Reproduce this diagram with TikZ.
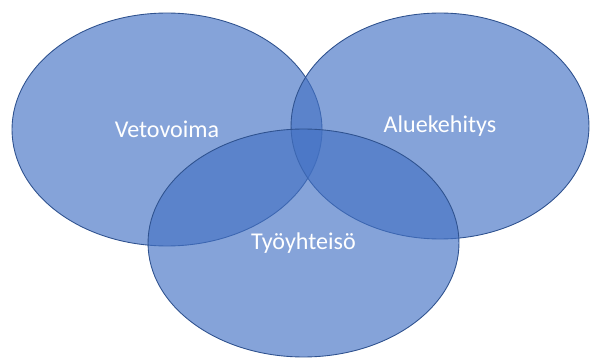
\documentclass[tikz,border=0pt]{standalone}
\usepackage{fontspec}
\setmainfont{Carlito}
\usetikzlibrary{shapes.geometric}
\definecolor{vennfill}{HTML}{4472C4}
\definecolor{venndraw}{HTML}{2F528F}

\begin{document}
\begin{tikzpicture}[x=0.02cm,y=0.02cm]
\tikzset{circ/.style={ellipse, draw=venndraw, fill=vennfill, fill opacity=0.65, text opacity=1, text=white, line width=0.5pt, inner sep=0pt, font=\fontsize{13.7}{16}\selectfont}}
\useasboundingbox (0,0) rectangle (590,358);

\coordinate (L) at (167,228.5); \coordinate (R) at (440,232); \coordinate (B) at (303.5,115);
\node (veto) at (L) [circ, minimum width=6.2cm, minimum height=4.66cm] {Vetovoima};
\node (alue) at (R) [circ, minimum width=5.96cm, minimum height=4.52cm] {Aluekehitys};
\node (tyo) at (B) [circ, minimum width=6.22cm, minimum height=4.56cm] {Työyhteisö};

\end{tikzpicture}
\end{document}
